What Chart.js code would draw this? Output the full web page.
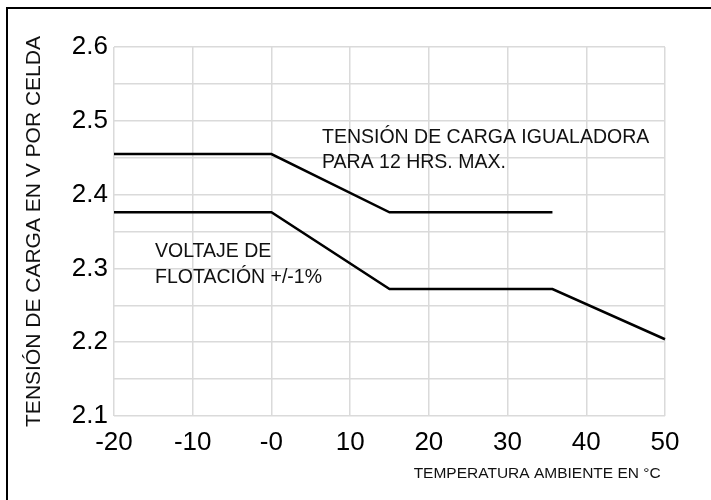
<!DOCTYPE html>
<html>
<head>
<meta charset="utf-8">
<script src="https://cdn.jsdelivr.net/npm/chart.js@4/dist/chart.umd.min.js"></script>
<style>
  html, body { margin: 0; padding: 0; background: #fff; }
  #wrap { width: 711px; height: 500px; position: relative; }
</style>
</head>
<body>
<div id="wrap"><canvas id="chart"></canvas></div>
<script>
// charge voltage vs ambient temperature

const equalizeTemps = [-20, 0, 15, 35.7];
const equalizeVolts = [2.455, 2.455, 2.376, 2.376];

const floatTemps = [-20, 0, 15, 35.7, 50];
const floatVolts = [2.376, 2.376, 2.272, 2.272, 2.204];

const xTickValues = [-20, -10, 0, 10, 20, 30, 40, 50];
const xTickLabels = ["-20", "-10", "-0", "10", "20", "30", "40", "50"];
const yTickLabels = ["2.1", "2.2", "2.3", "2.4", "2.5", "2.6"];

const FONT = "'Liberation Sans', Arial, Helvetica, sans-serif";

function toPoints(xs, ys) {
  return xs.map((x, i) => ({ x: x, y: ys[i] }));
}

/* frame + notes written on the plot */
const notesPlugin = {
  id: "notes",
  afterDraw(chart) {
    const ctx = chart.ctx;
    ctx.save();

    // picture frame (top + left only, rest cropped)
    ctx.strokeStyle = "#000";
    ctx.lineWidth = 2;
    ctx.beginPath();
    ctx.moveTo(7, 500);
    ctx.lineTo(7, 8);
    ctx.lineTo(711, 8);
    ctx.stroke();

    ctx.fillStyle = "#111";
    ctx.font = "19.5px " + FONT;
    ctx.textAlign = "left";
    ctx.textBaseline = "alphabetic";
    ctx.fillText("TENSIÓN DE CARGA IGUALADORA", 322, 143);
    ctx.fillText("PARA 12 HRS. MAX.", 322, 168);
    ctx.fillText("VOLTAJE DE", 155, 257);
    ctx.fillText("FLOTACIÓN +/-1%", 155, 283);

    ctx.restore();
  }
};

new Chart(document.getElementById("chart"), {
  type: "line",
  data: {
    datasets: [
      {
        label: "Igualadora",
        data: toPoints(equalizeTemps, equalizeVolts),
        borderColor: "#000",
        borderWidth: 2.5,
        pointRadius: 0,
        tension: 0,
        clip: false
      },
      {
        label: "Flotación",
        data: toPoints(floatTemps, floatVolts),
        borderColor: "#000",
        borderWidth: 2.5,
        pointRadius: 0,
        tension: 0,
        clip: false
      }
    ]
  },
  options: {
    responsive: true,
    maintainAspectRatio: false,
    animation: false,
    layout: { padding: { top: 47, right: 46, bottom: 0, left: 22 } },
    plugins: {
      legend: { display: false },
      tooltip: { enabled: false }
    },
    scales: {
      x: {
        type: "linear",
        min: -20,
        max: 50,
        afterFit(scale) { scale.height = 84; },
        afterBuildTicks(scale) {
          scale.ticks = xTickValues.map(v => ({ value: v }));
        },
        ticks: {
          color: "#000",
          padding: 11,
          autoSkip: false,
          maxRotation: 0,
          font: { family: FONT, size: 26 },
          callback: (value) => {
            const i = xTickValues.indexOf(value);
            return i >= 0 ? xTickLabels[i] : "";
          }
        },
        grid: { color: "#dadada", lineWidth: 1.5, drawTicks: false },
        border: { display: false },
        title: {
          display: true,
          text: "TEMPERATURA AMBIENTE EN °C ",
          align: "end",
          color: "#111",
          padding: { top: 0, bottom: 17 },
          font: { family: FONT, size: 15.5 }
        }
      },
      y: {
        min: 2.1,
        max: 2.6,
        afterFit(scale) { scale.width = 92; },
        ticks: {
          stepSize: 0.05,
          color: "#000",
          padding: 6,
          autoSkip: false,
          font: { family: FONT, size: 26 },
          callback: (value) => {
            const label = yTickLabels.find(l => Math.abs(parseFloat(l) - value) < 1e-6);
            return label || "";
          }
        },
        grid: { color: "#dadada", lineWidth: 1.5, drawTicks: false },
        border: { display: false },
        title: {
          display: true,
          text: "TENSIÓN DE CARGA EN V POR CELDA",
          color: "#111",
          padding: 0,
          font: { family: FONT, size: 21 }
        }
      }
    }
  },
  plugins: [notesPlugin]
});
</script>
</body>
</html>
